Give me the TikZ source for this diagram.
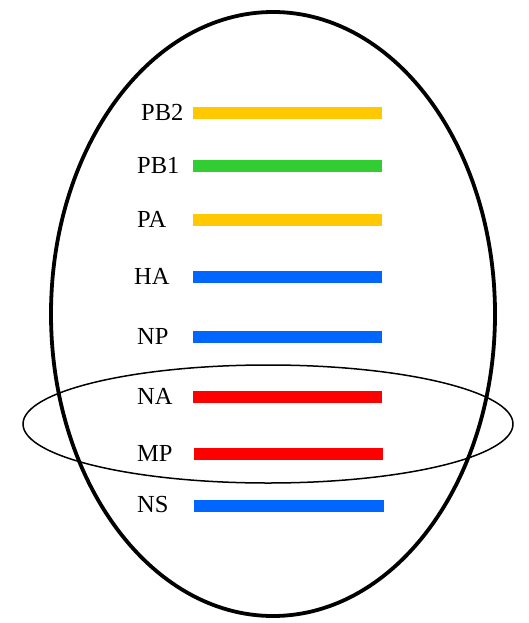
\documentclass[tikz,border=0pt]{standalone}
\usepackage{fontspec}
\setmainfont{Liberation Serif}
\definecolor{cyel}{RGB}{255,200,0}
\definecolor{cgrn}{RGB}{50,205,50}
\definecolor{cblu}{RGB}{0,102,255}
\definecolor{cred}{RGB}{255,0,0}
\begin{document}
\begin{tikzpicture}[x=1pt,y=-1pt,
  seg/.style={line width=12.5pt},
  lbl/.style={anchor=west,inner sep=0pt,font=\fontsize{24.5}{24.5}\selectfont},
  bigell/.style={line width=3.8pt},
  smallell/.style={line width=1.5pt}]
\useasboundingbox (0,0) rectangle (529,623);
\draw[bigell] (273,314) ellipse [x radius=222, y radius=302];
\draw[smallell] (268,424) ellipse [x radius=245, y radius=59];
\foreach \n/\t/\y/\c/\lx/\xa/\xb in {pb2/PB2/113/cyel/141/193/382, pb1/PB1/166/cgrn/137/193/382, pa/PA/220/cyel/137/193/382, ha/HA/277/cblu/134/193/382, np/NP/337/cblu/137/193/382, na/NA/397/cred/137/193/382, mp/MP/454/cred/137/194/383, ns/NS/506/cblu/137/194/384}{
  \coordinate (\n a) at (\xa,\y);
  \coordinate (\n b) at (\xb,\y);
  \draw[seg,\c] (\n a) -- (\n b);
  \node[lbl] (\n l) at (\lx,\y-1) {\t};
}
\end{tikzpicture}
\end{document}
